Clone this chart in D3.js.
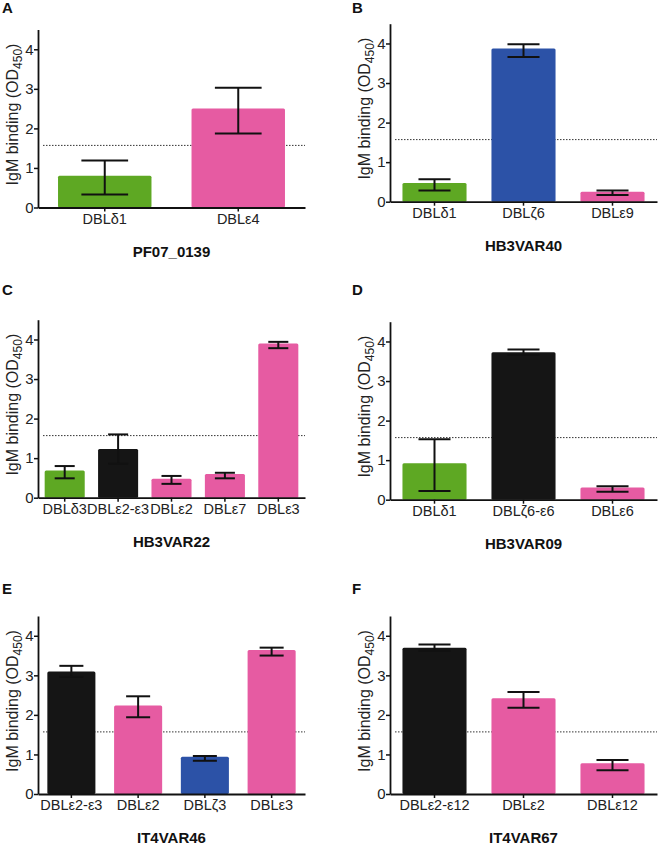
<!DOCTYPE html>
<html>
<head>
<meta charset="utf-8">
<script src="https://cdn.jsdelivr.net/npm/d3@7"></script>
<style>
  html, body { margin: 0; padding: 0; background: #fff; }
  svg { display: block; }
  text { font-family: "Liberation Sans", Arial, sans-serif; fill: #222; }
</style>
</head>
<body>
<svg id="chart" width="658" height="846"></svg>
<script>
// ---------------- data ----------------
const panelLetters = ["A", "B", "C", "D", "E", "F"];
const groupNames = ["PF07_0139", "HB3VAR40", "HB3VAR22", "HB3VAR09", "IT4VAR46", "IT4VAR67"];
const categories = [
  ["DBLδ1", "DBLε4"],
  ["DBLδ1", "DBLζ6", "DBLε9"],
  ["DBLδ3", "DBLε2-ε3", "DBLε2", "DBLε7", "DBLε3"],
  ["DBLδ1", "DBLζ6-ε6", "DBLε6"],
  ["DBLε2-ε3", "DBLε2", "DBLζ3", "DBLε3"],
  ["DBLε2-ε12", "DBLε2", "DBLε12"]
];
const domainClass = [
  ["delta", "epsilon"],
  ["delta", "zeta", "epsilon"],
  ["delta", "tandem", "epsilon", "epsilon", "epsilon"],
  ["delta", "tandem", "epsilon"],
  ["tandem", "epsilon", "zeta", "epsilon"],
  ["tandem", "epsilon", "epsilon"]
];
const meanValues = [
  [0.80, 2.50],
  [0.47, 3.87, 0.25],
  [0.69, 1.23, 0.48, 0.60, 3.90],
  [0.92, 3.73, 0.31],
  [3.10, 2.24, 0.94, 3.64],
  [3.70, 2.42, 0.78]
];
const errLower = [
  [0.33, 1.87],
  [0.28, 3.66, 0.17],
  [0.49, 0.86, 0.35, 0.49, 3.78],
  [0.22, 3.66, 0.20],
  [2.96, 1.94, 0.84, 3.50],
  [3.62, 2.18, 0.60]
];
const errUpper = [
  [1.19, 3.03],
  [0.57, 3.98, 0.28],
  [0.80, 1.60, 0.55, 0.63, 3.94],
  [1.53, 3.80, 0.34],
  [3.24, 2.47, 0.96, 3.70],
  [3.78, 2.58, 0.86]
];
const threshold = 1.57;
const yTicks = [0, 1, 2, 3, 4];
const yMax = 4.5;

// ---------------- styling / layout ----------------
const colors = { delta: "#5ea823", epsilon: "#e65ba2", zeta: "#2c52a7", tandem: "#151515" };
const layout = [
  { left: 38,  right: 305, y0: 207.5, pad: 0.30, lx: 2,   ly: 13 },
  { left: 390, right: 657, y0: 201.7, pad: 0.28, lx: 352, ly: 13 },
  { left: 38,  right: 305, y0: 497.7, pad: 0.25, lx: 2,   ly: 295 },
  { left: 390, right: 657, y0: 499.7, pad: 0.28, lx: 352, ly: 295 },
  { left: 38,  right: 305, y0: 794,   pad: 0.28, lx: 2,   ly: 594 },
  { left: 390, right: 657, y0: 794,   pad: 0.28, lx: 352, ly: 594 }
];
const plotH = 178;
const fontFam = "Liberation Sans, Arial, sans-serif";

const svg = d3.select("#chart");

panelLetters.forEach((letter, i) => {
  const L = layout[i];
  const g = svg.append("g");

  const x = d3.scaleBand()
    .domain(categories[i])
    .range([L.left, L.right])
    .paddingInner(L.pad)
    .paddingOuter(L.pad / 2);
  const y = d3.scaleLinear().domain([0, yMax]).range([L.y0, L.y0 - plotH]);

  // panel letter
  g.append("text")
    .attr("x", L.lx).attr("y", L.ly)
    .attr("font-size", 15).attr("font-weight", "bold")
    .style("fill", "#111")
    .text(letter);

  // threshold dotted line
  g.append("line")
    .attr("x1", L.left + 5).attr("x2", L.right)
    .attr("y1", y(threshold)).attr("y2", y(threshold))
    .attr("stroke", "#333").attr("stroke-width", 1)
    .attr("stroke-dasharray", "1.5,1.5");

  const rows = categories[i].map((c, j) => ({
    cat: c, cls: domainClass[i][j], v: meanValues[i][j],
    lo: errLower[i][j], hi: errUpper[i][j]
  }));

  // bars
  g.selectAll("rect.bar").data(rows).enter().append("rect")
    .attr("class", "bar")
    .attr("x", d => x(d.cat))
    .attr("width", x.bandwidth())
    .attr("y", d => y(d.v))
    .attr("height", d => y(0) - y(d.v))
    .attr("rx", 1.5)
    .attr("fill", d => colors[d.cls]);

  // error bars
  const capW = x.bandwidth() * 0.5;
  const eb = g.selectAll("g.err").data(rows).enter().append("g").attr("class", "err")
    .attr("stroke", "#111").attr("stroke-width", 2);
  eb.append("line")
    .attr("x1", d => x(d.cat) + x.bandwidth() / 2).attr("x2", d => x(d.cat) + x.bandwidth() / 2)
    .attr("y1", d => y(d.lo)).attr("y2", d => y(d.hi));
  eb.append("line")
    .attr("x1", d => x(d.cat) + x.bandwidth() / 2 - capW / 2)
    .attr("x2", d => x(d.cat) + x.bandwidth() / 2 + capW / 2)
    .attr("y1", d => y(d.hi)).attr("y2", d => y(d.hi));
  eb.append("line")
    .attr("x1", d => x(d.cat) + x.bandwidth() / 2 - capW / 2)
    .attr("x2", d => x(d.cat) + x.bandwidth() / 2 + capW / 2)
    .attr("y1", d => y(d.lo)).attr("y2", d => y(d.lo));

  // y axis
  const yAxis = d3.axisLeft(y).tickValues(yTicks).tickFormat(d3.format("d")).tickSize(4).tickSizeOuter(0);
  const ya = g.append("g").attr("transform", `translate(${L.left},0)`).call(yAxis);
  ya.select(".domain").attr("stroke", "#111").attr("stroke-width", 1.8);
  ya.selectAll(".tick line").attr("stroke", "#111").attr("stroke-width", 1.5);
  ya.selectAll(".tick text").attr("font-size", 15).attr("x", -4.5)
    .attr("font-family", fontFam).style("fill", "#222");

  // x axis
  const xAxis = d3.axisBottom(x).tickSize(4).tickSizeOuter(0);
  const xa = g.append("g").attr("transform", `translate(0,${L.y0})`).call(xAxis);
  xa.select(".domain").attr("stroke", "#111").attr("stroke-width", 1.8);
  xa.selectAll(".tick line").attr("stroke", "#111").attr("stroke-width", 1.5);
  xa.selectAll(".tick text").attr("font-size", 14.5).attr("y", 6)
    .attr("font-family", fontFam).style("fill", "#222");

  // y label
  const cy = L.y0 - plotH / 2 - 4;
  const yl = g.append("text")
    .attr("transform", `translate(${L.left - 20},${cy}) rotate(-90)`)
    .attr("text-anchor", "middle")
    .attr("font-size", 16)
    .style("fill", "#222");
  yl.append("tspan").text("IgM binding (OD");
  yl.append("tspan").attr("font-size", 12).attr("dy", 4).text("450");
  yl.append("tspan").attr("dy", -4).text(")");

  // group title
  g.append("text")
    .attr("x", (L.left + L.right) / 2).attr("y", L.y0 + 49)
    .attr("text-anchor", "middle")
    .attr("font-size", 15).attr("font-weight", "bold")
    .style("fill", "#111")
    .text(groupNames[i]);
});
</script>
</body>
</html>
